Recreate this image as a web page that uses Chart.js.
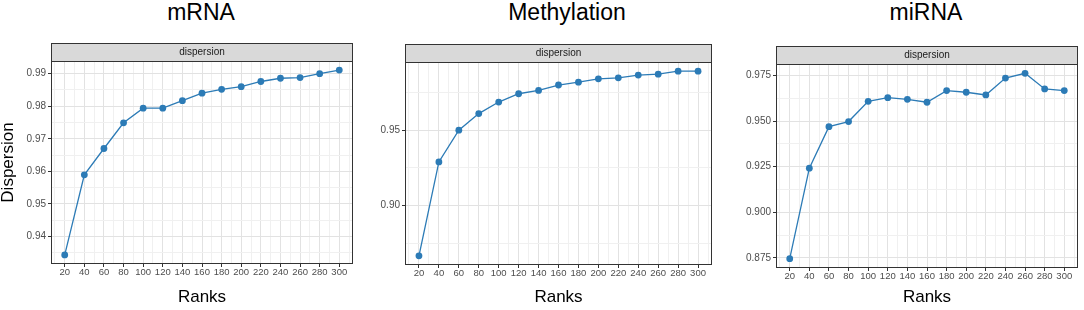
<!DOCTYPE html>
<html>
<head>
<meta charset="utf-8">
<script src="https://cdn.jsdelivr.net/npm/chart.js@4.4.1/dist/chart.umd.min.js"></script>
<style>
  html, body { margin: 0; padding: 0; background: #ffffff; }
  body { width: 1084px; height: 310px; position: relative; overflow: hidden; font-family: "Liberation Sans", Arial, sans-serif; }
  .panel { position: absolute; top: 0; height: 310px; }
  .ttl { position: absolute; top: 1px; height: 23px; line-height: 23px; font-size: 23px; color: #000; white-space: nowrap; transform: translateX(-50%); }
</style>
</head>
<body>
<div class="ttl" style="left:201px">mRNA</div>
<div class="ttl" style="left:567px">Methylation</div>
<div class="ttl" style="left:926px">miRNA</div>
<div class="panel" style="left:0px;width:360px"><canvas id="c1" width="360" height="310"></canvas></div>
<div class="panel" style="left:360px;width:362px"><canvas id="c2" width="362" height="310"></canvas></div>
<div class="panel" style="left:722px;width:362px"><canvas id="c3" width="362" height="310"></canvas></div>
<script>
// ---- data ----
const ranks = [20, 40, 60, 80, 100, 120, 140, 160, 180, 200, 220, 240, 260, 280, 300];
const mrnaDispersion = [0.9343, 0.9589, 0.9670, 0.9749, 0.9794, 0.9794, 0.9817, 0.9840, 0.9852, 0.9860, 0.9876, 0.9886, 0.9888, 0.9900, 0.9911];
const methylationDispersion = [0.8665, 0.9289, 0.9500, 0.9610, 0.9687, 0.9742, 0.9764, 0.9800, 0.9819, 0.9841, 0.9848, 0.9866, 0.9872, 0.9892, 0.9892];
const mirnaDispersion = [0.8745, 0.9242, 0.9470, 0.9498, 0.9609, 0.9629, 0.9620, 0.9604, 0.9668, 0.9659, 0.9644, 0.9737, 0.9763, 0.9677, 0.9668];
const panelTitles = ["mRNA", "Methylation", "miRNA"];
const stripLabel = "dispersion";
const xAxisTitle = "Ranks";
const yAxisTitle = "Dispersion";

const LINE = '#2c7bb6';
const FONT = '"Liberation Sans", Arial, sans-serif';
const MAJOR = '#e2e2e2';
const MINOR = '#f0f0f0';

const framePlugin = {
  id: 'frame',
  afterDraw(chart) {
    const ctx = chart.ctx, a = chart.chartArea;
    ctx.save();
    ctx.strokeStyle = '#333333';
    ctx.lineWidth = 1;
    ctx.strokeRect(Math.round(a.left) + 0.5, Math.round(a.top) + 0.5, Math.round(a.right - a.left) - 1, Math.round(a.bottom - a.top) - 1);
    const sh = 18;
    const st = Math.round(a.top) - sh;
    ctx.fillStyle = '#d9d9d9';
    ctx.fillRect(Math.round(a.left), st, Math.round(a.right - a.left), sh);
    ctx.strokeStyle = '#333333';
    ctx.strokeRect(Math.round(a.left) + 0.5, st + 0.5, Math.round(a.right - a.left) - 1, sh);
    ctx.fillStyle = '#1a1a1a';
    ctx.font = '10px ' + FONT;
    ctx.textAlign = 'center';
    ctx.textBaseline = 'middle';
    ctx.fillText(stripLabel, (a.left + a.right) / 2, st + sh / 2 + 0.5);
    ctx.restore();
  }
};

function makePanel(id, values, cfg) {
  const isMajorX = v => Math.round(v) % 20 === 0;
  const isMajorY = v => Math.round(v * cfg.scaleF) % cfg.majorUnits === 0;
  new Chart(document.getElementById(id), {
    type: 'line',
    data: {
      datasets: [{
        data: ranks.map((r, i) => ({ x: r, y: values[i] })),
        borderColor: LINE,
        backgroundColor: LINE,
        borderWidth: 1.3,
        pointRadius: 3.4,
        pointBorderWidth: 0,
        pointBackgroundColor: LINE,
        tension: 0,
        clip: false
      }]
    },
    options: {
      responsive: false,
      animation: false,
      devicePixelRatio: 1,
      layout: { padding: { top: cfg.top, right: cfg.padRight, left: 0, bottom: 0 } },
      plugins: { legend: { display: false }, tooltip: { enabled: false }, title: { display: false } },
      scales: {
        x: {
          type: 'linear',
          min: 6, max: 314,
          afterFit: s => { s.height = cfg.xAxisH; },
          border: { display: false },
          grid: {
            color: c => isMajorX(c.tick.value) ? MAJOR : MINOR,
            lineWidth: 1,
            tickLength: 3,
            tickColor: c => isMajorX(c.tick.value) ? '#333333' : 'rgba(0,0,0,0)',
            tickWidth: 1
          },
          ticks: {
            stepSize: 10,
            includeBounds: false,
            autoSkip: false,
            maxRotation: 0,
            padding: 0,
            color: '#4d4d4d',
            font: { family: FONT, size: 9.5 },
            callback: v => isMajorX(v) ? String(Math.round(v)) : ''
          },
          title: {
            display: true,
            text: xAxisTitle,
            color: '#000000',
            font: { family: FONT, size: 17, lineHeight: 1 },
            padding: { top: 0, bottom: 4 }
          }
        },
        y: {
          type: 'linear',
          min: cfg.ymin, max: cfg.ymax,
          afterFit: s => { s.width = cfg.yAxisW; },
          border: { display: false },
          grid: {
            color: c => isMajorY(c.tick.value) ? MAJOR : MINOR,
            lineWidth: 1,
            tickLength: 3,
            tickColor: c => isMajorY(c.tick.value) ? '#333333' : 'rgba(0,0,0,0)',
            tickWidth: 1
          },
          ticks: {
            stepSize: cfg.step,
            includeBounds: false,
            autoSkip: false,
            padding: 2,
            color: '#4d4d4d',
            font: { family: FONT, size: 10 },
            callback: v => isMajorY(v) ? v.toFixed(cfg.dec) : ''
          },
          title: {
            display: !!cfg.yTitle,
            text: yAxisTitle,
            color: '#000000',
            font: { family: FONT, size: 17, lineHeight: 1 },
            padding: { top: 0, bottom: 0 }
          }
        }
      }
    },
    plugins: [framePlugin]
  });
}

makePanel('c1', mrnaDispersion, { top: 61, padRight: 7, xAxisH: 46, yAxisW: 51, ymin: 0.9315, ymax: 0.9939, step: 0.005, scaleF: 1000, majorUnits: 10, dec: 2, yTitle: true });
makePanel('c2', methylationDispersion, { top: 62, padRight: 10, xAxisH: 45, yAxisW: 45, ymin: 0.8604, ymax: 0.9953, step: 0.025, scaleF: 1000, majorUnits: 50, dec: 2, yTitle: false });
makePanel('c3', mirnaDispersion, { top: 64, padRight: 6, xAxisH: 42, yAxisW: 54, ymin: 0.8694, ymax: 0.9814, step: 0.0125, scaleF: 10000, majorUnits: 250, dec: 3, yTitle: false });
</script>
</body>
</html>
